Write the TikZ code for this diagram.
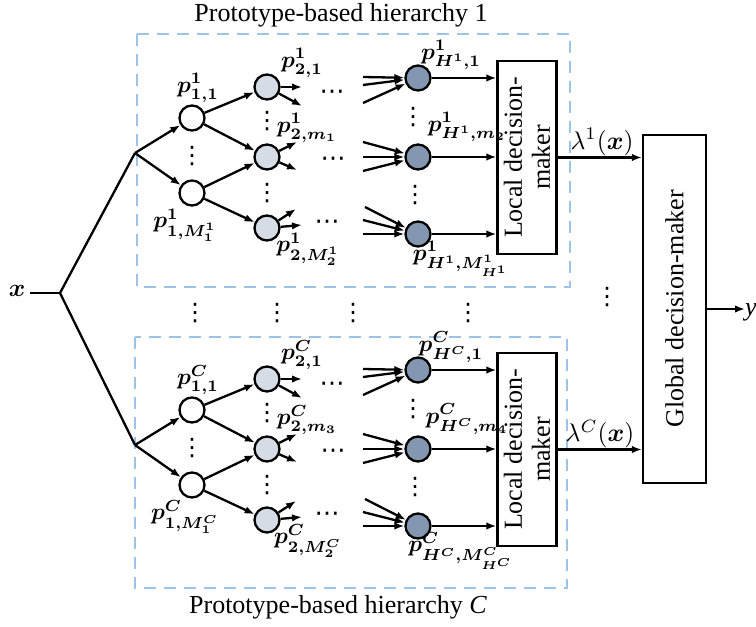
\documentclass[tikz,border=0pt]{standalone}
\usepackage{fontspec}
\usepackage{amsmath}
\setmainfont{Liberation Serif}
\newfontfamily\dejavu{DejaVu Sans}
\usetikzlibrary{arrows.meta}
\definecolor{dashblue}{HTML}{9DC3E6}
\definecolor{lightnode}{HTML}{D6DCE5}
\definecolor{darknode}{HTML}{8497B0}
\newcommand\myvd{⋮}
\newcommand\mycd{⋯}
\newcommand\mymath[1]{\scalebox{2.3}{$#1$}}
\tikzset{
  x=1pt, y=-1pt,
  conn/.style={line width=2.3pt, -{Latex[length=10pt,width=7.5pt]}},
  plain/.style={line width=2.3pt},
  neuron/.style={circle, draw, line width=2.3pt, minimum size=25pt, inner sep=0pt},
  nA/.style={neuron, fill=white},
  nB/.style={neuron, fill=lightnode},
  nC/.style={neuron, fill=darknode},
  lab/.style={font=\boldmath, inner sep=0pt},
  vdt/.style={inner sep=0pt, font=\dejavu\fontsize{24}{24}\selectfont},
  hdt/.style={inner sep=0pt, anchor=base, font=\dejavu\fontsize{25}{25}\selectfont},
  box/.style={draw, line width=2.3pt, inner sep=0pt, rotate=90, align=center,
              font=\fontsize{26}{28}\selectfont},
  region/.style={draw=dashblue, line width=2.4pt, dash pattern=on 12pt off 8pt},
  ttl/.style={font=\fontsize{26}{28}\selectfont, inner sep=0pt},
}
\newcommand\hierblock[4]{%
  \coordinate (#1F) at (135,153);
  \node[nA] (#1p11) at (192,118) {};
  \node[nA] (#1p1M) at (192,193) {};
  \node[nB] (#1p21) at (267,87) {};
  \node[nB] (#1p2m) at (267,157) {};
  \node[nB] (#1p2M) at (267,228) {};
  \node[nC] (#1pH1) at (418,78) {};
  \node[nC] (#1pHm) at (418,157) {};
  \node[nC] (#1pHM) at (418,234) {};
  \node[box, minimum width=193pt, minimum height=59pt] (#1LDM) at (527,157.5) {Local decision-\\maker};
  % labels
  \node[lab] (#1l11) at (198,88) {\mymath{p^{#2}_{1,1}}};
  \node[lab] (#1l1M) at (185,225) {\mymath{p^{#2}_{1,M_1^{#2}}}};
  \node[lab] (#1l21) at (302,63) {\mymath{p^{#2}_{2,1}}};
  \node[lab] (#1l2m) at (307,128) {\mymath{p^{#2}_{2,#3}}};
  \node[lab] (#1l2M) at (308,249) {\mymath{p^{#2}_{2,M_2^{#2}}}};
  \node[lab] (#1lH1) at (451,55) {\mymath{p^{#2}_{H^{#2},1}}};
  \node[lab] (#1lHm) at (467,127) {\mymath{p^{#2}_{H^{#2},#4}}};
  \node[lab] (#1lHM) at (461,259) {\mymath{p^{#2}_{H^{#2},M^{#2}_{H^{#2}}}}};
  % dots
  \node[vdt] (#1d1) at (192,156) {\myvd};
  \node[vdt] (#1d2) at (267,121) {\myvd};
  \node[vdt] (#1d3) at (267,193) {\myvd};
  \node[vdt] (#1d4) at (413,117) {\myvd};
  \node[vdt] (#1d5) at (415,195) {\myvd};
  \node[hdt] (#1c1) at (332,99) {\mycd};
  \node[hdt] (#1c2) at (333,166) {\mycd};
  \node[hdt] (#1c3) at (327,229) {\mycd};
  % free ends
  \coordinate (#1o1) at (302,87);  \coordinate (#1o2) at (302,106);
  \coordinate (#1o3) at (297,142); \coordinate (#1o4) at (297,170);
  \coordinate (#1o5) at (296,209); \coordinate (#1o6) at (302,225);
  \coordinate (#1i1) at (363,77);  \coordinate (#1i2) at (363,85);  \coordinate (#1i3) at (363,103);
  \coordinate (#1i4) at (363,142); \coordinate (#1i5) at (363,157); \coordinate (#1i6) at (363,171);
  \coordinate (#1i7) at (365,207); \coordinate (#1i8) at (363,220); \coordinate (#1i9) at (363,234);
  % connectors
  \draw[conn] (#1F) -- (#1p11);
  \draw[conn] (#1F) -- (#1p1M);
  \draw[conn] (#1p11) -- (#1p21);
  \draw[conn] (#1p11) -- (#1p2m);
  \draw[conn] (#1p1M) -- (#1p2m);
  \draw[conn] (#1p1M) -- (#1p2M);
  \draw[conn] (#1p21) -- (#1o1);
  \draw[conn] (#1p21) -- (#1o2);
  \draw[conn] (#1p2m) -- (#1o3);
  \draw[conn] (#1p2m) -- (#1o4);
  \draw[conn] (#1p2M) -- (#1o5);
  \draw[conn] (#1p2M) -- (#1o6);
  \foreach \k in {1,2,3} \draw[conn] (#1i\k) -- (#1pH1);
  \foreach \k in {4,5,6} \draw[conn] (#1i\k) -- (#1pHm);
  \foreach \k in {7,8,9} \draw[conn] (#1i\k) -- (#1pHM);
  \draw[conn] (#1pH1) -- (#1pH1 -| #1LDM.north);
  \draw[conn] (#1pHm) -- (#1pHm -| #1LDM.north);
  \draw[conn] (#1pHM) -- (#1pHM -| #1LDM.north);
}
\begin{document}
\begin{tikzpicture}
\useasboundingbox (0,0) rectangle (756,627);
% regions
\draw[region] (137,34) rectangle (570,287);
\draw[region] (135,337) rectangle (567,588);
\node[ttl] (t1) at (341,15) {Prototype-based hierarchy 1};
\node[ttl] (t2) at (338,607) {Prototype-based hierarchy \textit{C}};
% hierarchies
\begin{scope}
  \hierblock{a}{1}{m_1}{m_2}
\end{scope}
\begin{scope}[yshift=-292pt]
  \hierblock{b}{C}{m_3}{m_4}
\end{scope}
% input
\node[font=\boldmath, inner sep=0pt] (xl) at (17,291) {\scalebox{2.5}{$x$}};
\coordinate (J) at (60,293);
\path (xl.east |- J) ++(5,0) coordinate (xs);
\draw[plain] (xs) -- (J);
\draw[plain] (aF) -- (J) -- (bF);
% global
\node[box, minimum width=348pt, minimum height=63pt] (gdm) at (674.5,309) {Global decision-maker};
\draw[conn] (aLDM.south) -- (aLDM.south -| gdm.north);
\draw[conn] (bLDM.south) -- (bLDM.south -| gdm.north);
\node[inner sep=0pt] (lam1) at (602,142) {\scalebox{2.55}{$\lambda^{1}(\boldsymbol{x})$}};
\node[inner sep=0pt] (lamC) at (600,434) {\scalebox{2.55}{$\lambda^{C}(\boldsymbol{x})$}};
\coordinate (yo) at (745,309);
\draw[conn] (gdm.south) -- (yo);
\node[font=\fontsize{26}{28}\selectfont, inner sep=0pt, anchor=west] (yl) at (745,312) {\textit{y}};
% between-hierarchy dots
\node[vdt] (m1) at (195,313) {\myvd};
\node[vdt] (m2) at (277,313) {\myvd};
\node[vdt] (m3) at (353,313) {\myvd};
\node[vdt] (m4) at (468,313) {\myvd};
\node[vdt] (m5) at (607,297) {\myvd};
\end{tikzpicture}
\end{document}
